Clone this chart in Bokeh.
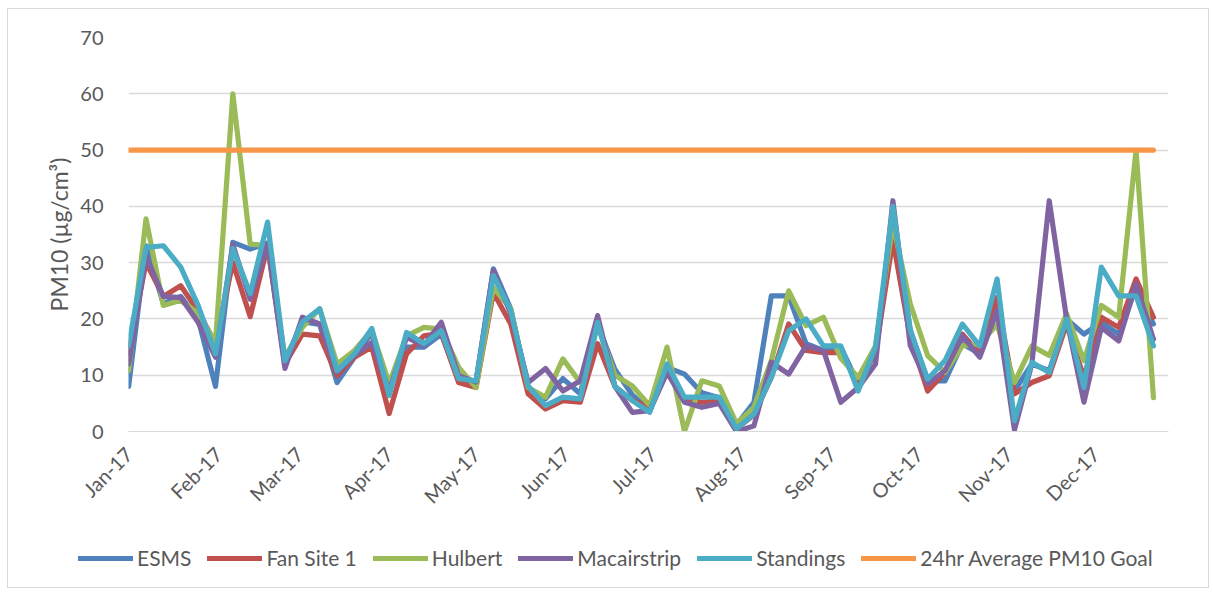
import pandas as pd
from datetime import timedelta
from math import pi
from bokeh.plotting import figure
from bokeh.layouts import column, row
from bokeh.models import (Range1d, SingleIntervalTicker, MonthsTicker, DatetimeTickFormatter,
                          Legend, LegendItem, ColumnDataSource)
from bokeh.embed import file_html
from bokeh.resources import INLINE

# ---- data (sampled every 6 days, starting 1 Jan 2017) ----
dates = pd.date_range("2017-01-01", periods=60, freq="6D")

esms = [8, 33, 22.7, 24, 20, 8, 33.6, 32.4, 33.5, 12.4,
        19.5, 19, 8.7, 13.2, 17.5, 7.2, 15, 15, 17.3, 9.2,
        8.8, 28.9, 21.8, 7.8, 5.8, 9.4, 6.7, 19, 11, 6.5,
        3.7, 11.4, 10.2, 6.9, 6, 1.2, 5.2, 24.1, 24.1, 15.6,
        14.4, 15, 8.5, 14.4, 38, 18, 9, 9, 15.6, 13.8,
        21.8, 7.2, 12, 10.8, 20, 17.3, 19.4, 17.3, 25.6, 19.1]

fan_site_1 = [14, 30, 24, 25.9, 21.4, 15.6, 30, 20.4, 33, 12,
              17.3, 17, 9.9, 13.2, 15, 3.2, 13.8, 17, 17.5, 8.7,
              7.8, 24.7, 19.1, 6.7, 4, 5.5, 5.2, 15.6, 8, 5.5,
              4.3, 11, 5.8, 5.2, 5.5, 0.5, 3, 9.6, 19.1, 14.4,
              14, 14, 8.5, 14, 34, 16.7, 7.2, 10.5, 17.3, 13.8,
              23.8, 6.7, 8.7, 9.9, 19.1, 9.6, 20.3, 18.5, 27.1, 20.3]

hulbert = [10.8, 37.8, 22.4, 23.3, 21, 15.8, 60, 33.3, 33, 13.2,
           18.5, 21.8, 12, 14.4, 18, 8.5, 17, 18.5, 18.2, 11.4,
           7.8, 25.6, 21.8, 7.8, 6.1, 12.9, 8.7, 19, 10, 8.1,
           4.6, 15, 0, 9, 8.1, 1.4, 4.3, 12.6, 25, 18.8,
           20.3, 13, 9.6, 15.2, 37, 22.7, 13.5, 10.5, 15.2, 15.6,
           19, 8.7, 15.2, 13.5, 20.9, 12.6, 22.4, 20.3, 50, 6]

macairstrip = [12, 31.2, 24, 23.8, 19.4, 13.2, 33.2, 23.5, 33.4, 11.2,
               20.3, 19.1, 10.5, 13.5, 15.8, 7.2, 16.7, 15.3, 19.4, 9.9,
               8.8, 28.6, 20.9, 8.7, 11.2, 7.2, 9, 20.6, 8, 3.4,
               3.7, 10.5, 5.2, 4.3, 5, 0, 1, 12.3, 10.2, 15.2,
               14.4, 5.2, 7.8, 12, 41, 15.3, 8.5, 10.8, 17, 13.2,
               21.5, 0.3, 12, 41, 20, 5.2, 18.5, 16.1, 26.2, 16.4]

standings = [15.2, 32.7, 33, 29.2, 22.4, 13.8, 32.5, 24.5, 37.2, 12.6,
             19.4, 21.8, 10.8, 13.8, 18.3, 6.4, 17.6, 15.6, 17.9, 9.4,
             9, 27.7, 21.5, 8.1, 4.6, 6.1, 5.8, 19.4, 8, 5.5,
             3.4, 12, 6.1, 6.1, 6.1, 0.5, 3.1, 9.6, 17.9, 20,
             15.2, 15.2, 7.2, 15, 40, 18, 9.3, 12.6, 19.1, 15.2,
             27.1, 1.9, 12.3, 10.5, 20, 7.8, 29.2, 24.1, 24.1, 15.2]

goal = [50] * 60

series_names = ["ESMS", "Fan Site 1", "Hulbert", "Macairstrip", "Standings",
                "24hr Average PM10 Goal"]
series_values = [esms, fan_site_1, hulbert, macairstrip, standings, goal]
series_colors = ["#4F81BD", "#C0504D", "#9BBB59", "#8064A2", "#4BACC6", "#F79646"]

FONT = "Lato"
TXT = "#595959"
LW = 5.2

src = ColumnDataSource(dict(date=dates, **{f"s{i}": v for i, v in enumerate(series_values)}))

# ---- main chart ----
p = figure(width=1200, height=530, x_axis_type="datetime",
           output_backend="svg", toolbar_location=None,
           min_border_left=120, min_border_right=40,
           min_border_top=28, min_border_bottom=108)

p.x_range = Range1d(dates[0] - timedelta(hours=1), dates[0] + timedelta(days=359.2))
p.y_range = Range1d(0, 70)

for i, col in enumerate(series_colors):
    p.line("date", f"s{i}", source=src, line_color=col, line_width=LW,
           line_join="round", line_cap="round")

p.outline_line_color = None
p.xgrid.grid_line_color = None
p.ygrid.grid_line_color = "#D9D9D9"
p.ygrid.grid_line_width = 1.3
p.yaxis.ticker = SingleIntervalTicker(interval=10)
p.xaxis.ticker = MonthsTicker(months=list(range(12)))
p.xaxis.formatter = DatetimeTickFormatter(months="%b-%y", days="%b-%y", years="%b-%y",
                                          hours="%b-%y", hourmin="%b-%y")
p.xaxis.major_label_orientation = pi / 4

for ax in (p.xaxis[0], p.yaxis[0]):
    ax.major_tick_line_color = None
    ax.minor_tick_line_color = None
    ax.major_label_text_font = FONT
    ax.major_label_text_font_size = "20px"
    ax.major_label_text_color = TXT
p.yaxis.axis_line_color = None
p.xaxis.axis_line_color = "#D9D9D9"
p.yaxis.major_label_standoff = 19
p.xaxis.major_label_standoff = 13

p.yaxis.axis_label = "PM10 (µg/cm³)"
p.yaxis.axis_label_text_font = FONT
p.yaxis.axis_label_text_font_style = "normal"
p.yaxis.axis_label_text_font_size = "23px"
p.yaxis.axis_label_text_color = TXT
p.yaxis.axis_label_standoff = 4

# ---- legend strip ----
q = figure(width=1200, height=48, output_backend="svg", toolbar_location=None,
           x_axis_location=None, y_axis_location=None,
           min_border_left=0, min_border_right=0, min_border_top=0, min_border_bottom=0,
           x_range=Range1d(0, 1), y_range=Range1d(0, 1))
q.outline_line_color = None
q.xgrid.grid_line_color = None
q.ygrid.grid_line_color = None
items = []
for name, col in zip(series_names, series_colors):
    r = q.line(x=[5, 6], y=[5, 6], line_color=col, line_width=LW, line_cap="round")
    items.append(LegendItem(label=name, renderers=[r]))
legend = Legend(items=items, orientation="horizontal", location=(70, 17),
                glyph_width=55, glyph_height=20, label_standoff=4, spacing=16,
                padding=0, margin=0, border_line_color=None,
                background_fill_alpha=0,
                label_text_font=FONT, label_text_font_size="21px",
                label_text_color=TXT)
q.add_layout(legend, "center")

layout = column(p, row(q), spacing=0,
                styles={"border": "1px solid #D9D9D9", "margin": "8px 0 0 7px"})

open("out.html", "w").write(file_html(layout, INLINE))
